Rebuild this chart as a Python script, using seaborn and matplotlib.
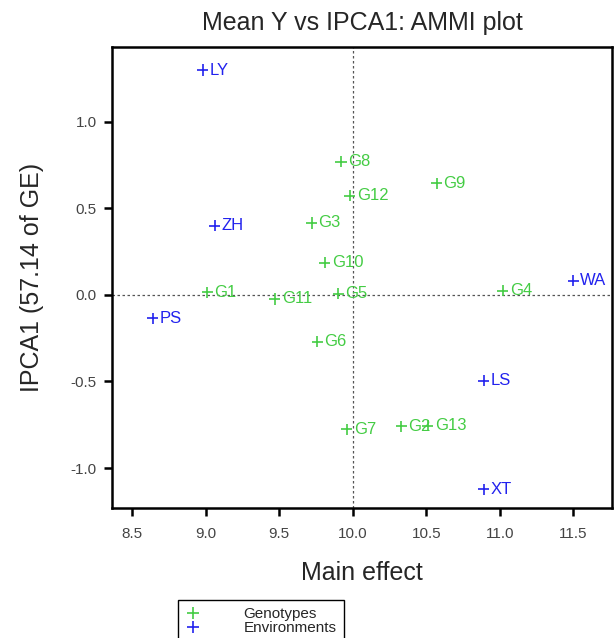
import numpy as np
import pandas as pd
import seaborn as sns
import matplotlib.pyplot as plt

# Genotypen (Mittelwert, IPCA1)
geno_names = ['G1', 'G2', 'G3', 'G4', 'G5', 'G6', 'G7', 'G8', 'G9', 'G10', 'G11', 'G12', 'G13']
geno_mean = [9.01, 10.33, 9.72, 11.02, 9.90, 9.76, 9.96, 9.92, 10.57, 9.81, 9.47, 9.98, 10.51]
geno_ipca = [0.016, -0.76, 0.416, 0.025, 0.006, -0.27, -0.775, 0.771, 0.646, 0.187, -0.023, 0.574, -0.755]

# Umwelten
env_names = ['LY', 'ZH', 'PS', 'WA', 'LS', 'XT']
env_mean = [8.98, 9.06, 8.64, 11.50, 10.89, 10.89]
env_ipca = [1.30, 0.40, -0.135, 0.083, -0.495, -1.123]

grand_mean = 10.0

GREEN = '#44cc44'
BLUE = '#2222ee'

sns.set_theme(style="ticks")
plt.rcParams['font.family'] = ['Liberation Sans', 'DejaVu Sans']

df = pd.DataFrame({
    'name': geno_names + env_names,
    'mean': geno_mean + env_mean,
    'ipca': geno_ipca + env_ipca,
    'typ': ['Genotypes'] * len(geno_names) + ['Environments'] * len(env_names),
})

fig = plt.figure(figsize=(6.16, 6.38), dpi=100)
ax = fig.add_axes([0.1818, 0.2038, 0.8125, 0.7233])

sns.scatterplot(data=df, x='mean', y='ipca', hue='typ', marker='+', s=64,
                palette={'Genotypes': GREEN, 'Environments': BLUE},
                linewidth=1.2, ax=ax)

# Beschriftung der Punkte
for _, row in df.iterrows():
    col = GREEN if row['typ'] == 'Genotypes' else BLUE
    ax.annotate(row['name'], (row['mean'], row['ipca']), xytext=(5, 0),
                textcoords='offset points', va='center', ha='left',
                color=col, fontsize=12)

ax.axhline(0, color='#555555', linestyle=(0, (2, 2)), linewidth=0.9, zorder=0)
ax.axvline(grand_mean, color='#555555', linestyle=(0, (2, 2)), linewidth=0.9, zorder=0)

ax.set_xlim(8.362, 11.767)
ax.set_ylim(-1.231, 1.436)
ax.set_xticks(np.arange(8.5, 11.6, 0.5))
ax.set_yticks([-1.0, -0.5, 0.0, 0.5, 1.0])
ax.xaxis.set_major_formatter(plt.FormatStrFormatter('%.1f'))
ax.yaxis.set_major_formatter(plt.FormatStrFormatter('%.1f'))
ax.tick_params(axis='both', labelsize=11, colors='black', width=1.8, length=6,
               labelcolor='#444444')
ax.tick_params(axis='x', pad=8)
ax.tick_params(axis='y', pad=5)
for sp in ax.spines.values():
    sp.set_visible(True)
    sp.set_linewidth(1.8)
    sp.set_color('black')

ax.set_title("Mean Y vs IPCA1: AMMI plot", fontsize=18, pad=12)
ax.set_xlabel("Main effect", fontsize=18, labelpad=14)
ax.set_ylabel("IPCA1 (57.14 of GE)", fontsize=18, labelpad=19)

# Legende unten, läuft über den Bildrand hinaus
sns.move_legend(ax, loc='upper left', bbox_to_anchor=(170 / 616, 1 - 592 / 638),
                bbox_transform=fig.transFigure, title=None, frameon=True,
                fontsize=11, handletextpad=2.8, borderpad=0.5,
                labelspacing=0.0, handlelength=1.0, fancybox=False,
                edgecolor='black', framealpha=1)

plt.savefig('out.png', dpi=100)
